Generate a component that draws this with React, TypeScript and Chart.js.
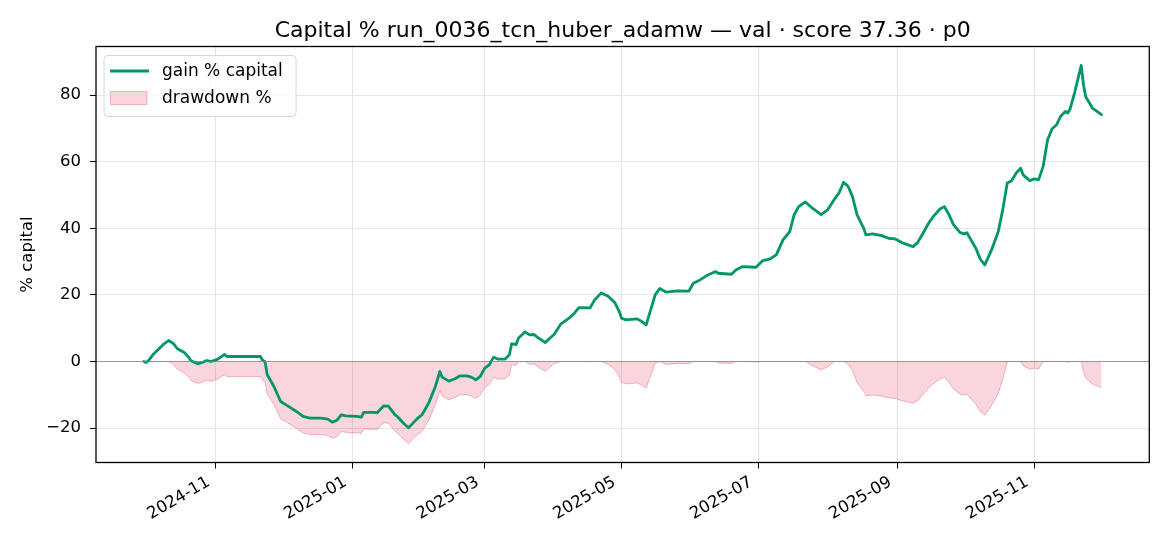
import React, { useEffect, useRef } from "react";
import { Chart, registerables } from "chart.js";

Chart.register(...registerables);

// ---------------- data ----------------
const dates: string[] = [
  "2024-09-30", "2024-10-01", "2024-10-02", "2024-10-04", "2024-10-07", "2024-10-09", "2024-10-11",
  "2024-10-13", "2024-10-15", "2024-10-18", "2024-10-20", "2024-10-21", "2024-10-24", "2024-10-26",
  "2024-10-28", "2024-10-30", "2024-11-02", "2024-11-04", "2024-11-05", "2024-11-06", "2024-11-21",
  "2024-11-22", "2024-11-23", "2024-11-24", "2024-11-27", "2024-11-30", "2024-12-04", "2024-12-07",
  "2024-12-10", "2024-12-13", "2024-12-18", "2024-12-21", "2024-12-23", "2024-12-25", "2024-12-27",
  "2024-12-29", "2025-01-03", "2025-01-05", "2025-01-06", "2025-01-11", "2025-01-12", "2025-01-15",
  "2025-01-17", "2025-01-20", "2025-01-21", "2025-01-24", "2025-01-26", "2025-01-28", "2025-01-30",
  "2025-02-01", "2025-02-04", "2025-02-07", "2025-02-09", "2025-02-10", "2025-02-13", "2025-02-16",
  "2025-02-18", "2025-02-21", "2025-02-23", "2025-02-25", "2025-02-27", "2025-03-01", "2025-03-03",
  "2025-03-05", "2025-03-07", "2025-03-10", "2025-03-12", "2025-03-13", "2025-03-15", "2025-03-16",
  "2025-03-19", "2025-03-21", "2025-03-23", "2025-03-25", "2025-03-28", "2025-03-30", "2025-04-01",
  "2025-04-04", "2025-04-07", "2025-04-10", "2025-04-12", "2025-04-17", "2025-04-19", "2025-04-22",
  "2025-04-25", "2025-04-28", "2025-04-30", "2025-05-01", "2025-05-03", "2025-05-08", "2025-05-10",
  "2025-05-12", "2025-05-14", "2025-05-16", "2025-05-18", "2025-05-21", "2025-05-26", "2025-05-31",
  "2025-06-02", "2025-06-05", "2025-06-08", "2025-06-12", "2025-06-13", "2025-06-19", "2025-06-21",
  "2025-06-24", "2025-06-30", "2025-07-03", "2025-07-06", "2025-07-09", "2025-07-12", "2025-07-15",
  "2025-07-17", "2025-07-19", "2025-07-22", "2025-07-25", "2025-07-29", "2025-08-01", "2025-08-04",
  "2025-08-06", "2025-08-08", "2025-08-10", "2025-08-12", "2025-08-14", "2025-08-17", "2025-08-18",
  "2025-08-21", "2025-08-25", "2025-08-28", "2025-08-31", "2025-09-03", "2025-09-08", "2025-09-10",
  "2025-09-12", "2025-09-15", "2025-09-17", "2025-09-20", "2025-09-22", "2025-09-24", "2025-09-26",
  "2025-09-29", "2025-10-01", "2025-10-02", "2025-10-04", "2025-10-06", "2025-10-08", "2025-10-10",
  "2025-10-13", "2025-10-16", "2025-10-18", "2025-10-20", "2025-10-22", "2025-10-24", "2025-10-26",
  "2025-10-27", "2025-10-30", "2025-11-01", "2025-11-03", "2025-11-05", "2025-11-07", "2025-11-09",
  "2025-11-11", "2025-11-13", "2025-11-15", "2025-11-16", "2025-11-17", "2025-11-19", "2025-11-22",
  "2025-11-23", "2025-11-24", "2025-11-27", "2025-11-29", "2025-12-01",
];

const gainPct: number[] = [
  0.0, -0.3, 0.2, 2.0, 4.0, 5.3, 6.3,
  5.5, 3.8, 2.7, 1.3, 0.2, -0.7, -0.3,
  0.3, 0.0, 0.7, 1.7, 2.1, 1.5, 1.5,
  0.3, 0.0, -4.0, -7.5, -12.0, -13.7, -15.0,
  -16.5, -17.0, -17.0, -17.3, -18.2, -17.7, -16.0,
  -16.3, -16.5, -16.7, -15.3, -15.3, -15.4, -13.3,
  -13.4, -16.0, -16.5, -18.7, -19.9, -18.5, -17.1,
  -16.0, -12.5, -7.5, -3.0, -4.7, -5.9, -5.1,
  -4.3, -4.3, -4.7, -5.5, -4.5, -2.0, -1.0,
  1.3, 0.7, 0.7, 2.0, 5.3, 5.1, 7.0,
  8.9, 8.0, 8.1, 7.0, 5.7, 7.0, 8.2,
  11.3, 12.7, 14.5, 16.2, 16.1, 18.5, 20.6,
  19.6, 17.7, 15.0, 13.0, 12.5, 12.8, 12.0,
  11.0, 15.5, 20.0, 21.9, 20.8, 21.2, 21.1,
  23.5, 24.5, 25.8, 27.0, 26.5, 26.2, 27.5,
  28.5, 28.3, 30.3, 30.7, 32.0, 36.5, 39.0,
  44.1, 46.5, 47.9, 46.1, 44.1, 45.6, 48.8,
  50.6, 53.8, 52.6, 49.5, 44.1, 40.0, 38.0,
  38.3, 37.8, 37.0, 36.8, 35.7, 34.5, 35.7,
  38.0, 41.6, 43.5, 45.8, 46.5, 44.1, 41.1,
  38.7, 38.3, 38.7, 36.3, 34.0, 30.7, 29.0,
  33.5, 39.0, 45.6, 53.6, 54.3, 56.6, 58.0,
  56.1, 54.3, 54.8, 54.6, 58.6, 66.6, 69.9,
  71.1, 73.8, 75.1, 74.6, 75.8, 80.6, 88.9,
  83.1, 79.5, 76.1, 75.1, 74.1,
];

const drawdownPct: number[] = [
  0.0, -0.3, 0.0, 0.0, 0.0, 0.0, 0.0,
  -0.75, -2.35, -3.39, -4.7, -5.74, -6.59, -6.21,
  -5.64, -5.93, -5.27, -4.33, -3.95, -4.52, -4.52,
  -5.64, -5.93, -9.69, -12.98, -17.22, -18.81, -20.04,
  -21.45, -21.92, -21.92, -22.2, -23.05, -22.58, -20.98,
  -21.26, -21.45, -21.64, -20.32, -20.32, -20.41, -18.44,
  -18.53, -20.98, -21.45, -23.52, -24.65, -23.33, -22.01,
  -20.98, -17.69, -12.98, -8.75, -10.35, -11.48, -10.72,
  -9.97, -9.97, -10.35, -11.1, -10.16, -7.81, -6.87,
  -4.7, -5.27, -5.27, -4.05, -0.94, -1.13, 0.0,
  0.0, -0.83, -0.73, -1.74, -2.94, -1.74, -0.64,
  0.0, 0.0, 0.0, 0.0, -0.09, 0.0, 0.0,
  -0.83, -2.4, -4.64, -6.3, -6.72, -6.47, -7.13,
  -7.96, -4.23, -0.5, 0.0, -0.9, -0.57, -0.66,
  0.0, 0.0, 0.0, 0.0, -0.39, -0.63, 0.0,
  0.0, -0.16, 0.0, 0.0, 0.0, 0.0, 0.0,
  0.0, 0.0, 0.0, -1.22, -2.57, -1.56, 0.0,
  0.0, 0.0, -0.78, -2.8, -6.31, -8.97, -10.27,
  -10.08, -10.4, -10.92, -11.05, -11.77, -12.55, -11.77,
  -10.27, -7.93, -6.7, -5.2, -4.75, -6.31, -8.26,
  -9.82, -10.08, -9.82, -11.38, -12.87, -15.02, -16.12,
  -13.2, -9.62, -5.33, -0.13, 0.0, 0.0, 0.0,
  -1.2, -2.34, -2.03, -2.15, 0.0, 0.0, 0.0,
  0.0, 0.0, 0.0, -0.29, 0.0, 0.0, 0.0,
  -3.07, -4.98, -6.78, -7.31, -7.83,
];

const xTickLabels: string[] = ["2024-11", "2025-01", "2025-03", "2025-05", "2025-07", "2025-09", "2025-11"];
const yTickValues: number[] = [-20, 0, 20, 40, 60, 80];

const TITLE = "Capital % run_0036_tcn_huber_adamw \u2014 val \u00b7 score 37.36 \u00b7 p0";
const SERIES_GAIN = "gain % capital";
const SERIES_DD = "drawdown %";
const Y_LABEL = "% capital";

// ---------------- styles ----------------
const FONT = "'DejaVu Sans', 'Noto Sans', sans-serif";
const GREEN = "#00956a";
const DD_FILL = "rgba(220, 20, 60, 0.18)";
const DD_EDGE = "rgba(220, 20, 60, 0.28)";
const GRID = "#e6e6e6";

const W = 1170;
const H = 546;

const toMs = (d: string) => Date.parse(d + "T00:00:00Z");
const tickMs = xTickLabels.map((m) => toMs(m + "-01"));

const titlePlugin = {
  id: "mplTitle",
  afterDraw(chart: any) {
    const { ctx, chartArea } = chart;
    ctx.save();
    ctx.font = `22px ${FONT}`;
    ctx.fillStyle = "#000";
    ctx.textAlign = "center";
    ctx.textBaseline = "alphabetic";
    ctx.fillText(TITLE, (chartArea.left + chartArea.right) / 2, chartArea.top - 9.5);
    ctx.restore();
  },
};

const framePlugin = {
  id: "mplFrame",
  afterDatasetsDraw(chart: any) {
    const { ctx, chartArea, scales } = chart;
    ctx.save();
    // zero line
    const y0 = scales.y.getPixelForValue(0);
    ctx.strokeStyle = "rgba(128,128,128,0.75)";
    ctx.lineWidth = 1.2;
    ctx.beginPath();
    ctx.moveTo(chartArea.left, y0);
    ctx.lineTo(chartArea.right, y0);
    ctx.stroke();
    // frame
    ctx.strokeStyle = "#000";
    ctx.lineWidth = 1.3;
    ctx.strokeRect(chartArea.left, chartArea.top, chartArea.right - chartArea.left, chartArea.bottom - chartArea.top);
    ctx.restore();
  },
};

const legendPlugin = {
  id: "mplLegend",
  afterDraw(chart: any) {
    const { ctx, chartArea } = chart;
    const ds = chart.data.datasets;
    const x0 = chartArea.left + 8;
    const y0 = chartArea.top + 9;
    const w = 192;
    const h = 61;
    const r = 4;
    ctx.save();
    ctx.beginPath();
    ctx.moveTo(x0 + r, y0);
    ctx.lineTo(x0 + w - r, y0);
    ctx.quadraticCurveTo(x0 + w, y0, x0 + w, y0 + r);
    ctx.lineTo(x0 + w, y0 + h - r);
    ctx.quadraticCurveTo(x0 + w, y0 + h, x0 + w - r, y0 + h);
    ctx.lineTo(x0 + r, y0 + h);
    ctx.quadraticCurveTo(x0, y0 + h, x0, y0 + h - r);
    ctx.lineTo(x0, y0 + r);
    ctx.quadraticCurveTo(x0, y0, x0 + r, y0);
    ctx.closePath();
    ctx.fillStyle = "rgba(255,255,255,0.8)";
    ctx.fill();
    ctx.strokeStyle = "#d6d6d6";
    ctx.lineWidth = 1;
    ctx.stroke();

    ctx.font = `17px ${FONT}`;
    ctx.fillStyle = "#000";
    ctx.textBaseline = "middle";
    ctx.textAlign = "left";

    // line entry
    const ly = y0 + 15.5;
    ctx.strokeStyle = ds[0].borderColor;
    ctx.lineWidth = 2.8;
    ctx.beginPath();
    ctx.moveTo(x0 + 6, ly);
    ctx.lineTo(x0 + 45, ly);
    ctx.stroke();
    ctx.fillText(ds[0].label, x0 + 58, ly + 1);

    // patch entry
    const py = y0 + 42.5;
    ctx.fillStyle = ds[1].backgroundColor;
    ctx.fillRect(x0 + 6.5, py - 6.5, 36.5, 13);
    ctx.strokeStyle = ds[1].borderColor;
    ctx.lineWidth = 1;
    ctx.strokeRect(x0 + 6.5, py - 6.5, 36.5, 13);
    ctx.fillStyle = "#000";
    ctx.fillText(ds[1].label, x0 + 58, py + 1);
    ctx.restore();
  },
};

export default function App() {
  const ref = useRef<HTMLCanvasElement | null>(null);

  useEffect(() => {
    if (!ref.current) return;
    const xs = dates.map(toMs);
    const xSpan = xs[xs.length - 1] - xs[0];
    const xMin = xs[0] - 0.05 * xSpan;
    const xMax = xs[xs.length - 1] + 0.05 * xSpan;
    const allY = gainPct.concat(drawdownPct);
    const yLo = Math.min(...allY);
    const yHi = Math.max(...allY);
    const ySpan = yHi - yLo;

    const chart = new Chart(ref.current, {
      type: "line",
      data: {
        datasets: [
          {
            label: SERIES_GAIN,
            data: xs.map((x, i) => ({ x, y: gainPct[i] })),
            borderColor: GREEN,
            backgroundColor: GREEN,
            borderWidth: 2.8,
            pointRadius: 0,
            tension: 0,
            fill: false,
            borderJoinStyle: "round",
            borderCapStyle: "round",
          },
          {
            label: SERIES_DD,
            data: xs.map((x, i) => ({ x, y: drawdownPct[i] })),
            borderColor: DD_EDGE,
            backgroundColor: DD_FILL,
            borderWidth: 1,
            pointRadius: 0,
            tension: 0,
            fill: "origin",
          },
        ],
      },
      options: {
        animation: false,
        responsive: false,
        devicePixelRatio: 1,
        layout: { padding: { left: 0, right: 20.7, top: 46.5, bottom: 0 } },
        plugins: {
          legend: { display: false },
          tooltip: { enabled: false },
          title: { display: false },
        },
        scales: {
          x: {
            type: "linear",
            min: xMin,
            max: xMax,
            afterBuildTicks: (scale: any) => {
              scale.ticks = tickMs.map((v) => ({ value: v }));
            },
            afterFit: (scale: any) => {
              scale.height = H - 462.5;
            },
            border: { display: false },
            grid: { color: GRID, lineWidth: 1, tickLength: 6, tickColor: "#000", drawTicks: true },
            ticks: {
              autoSkip: false,
              minRotation: 30,
              maxRotation: 30,
              padding: 4,
              labelOffset: -7,
              color: "#000",
              font: { family: FONT, size: 16.5 },
              callback: (v: any) => {
                const i = tickMs.indexOf(Number(v));
                return i >= 0 ? xTickLabels[i] : "";
              },
            },
          },
          y: {
            type: "linear",
            min: yLo - 0.05 * ySpan,
            max: yHi + 0.05 * ySpan,
            afterBuildTicks: (scale: any) => {
              scale.ticks = yTickValues.map((v) => ({ value: v }));
            },
            afterFit: (scale: any) => {
              scale.width = 96;
            },
            border: { display: false },
            grid: { color: GRID, lineWidth: 1, tickLength: 6, tickColor: "#000", drawTicks: true },
            ticks: {
              padding: 9,
              color: "#000",
              font: { family: FONT, size: 16.5 },
              callback: (v: any) => (Number(v) < 0 ? "\u2212" + String(Math.abs(Number(v))) : String(v)),
            },
            title: {
              display: true,
              text: Y_LABEL,
              color: "#000",
              font: { family: FONT, size: 16.5, lineHeight: 1.2 },
              padding: { top: 17.5, bottom: 0 },
            },
          },
        },
      },
      plugins: [framePlugin, legendPlugin, titlePlugin],
    } as any);

    return () => chart.destroy();
  }, []);

  return (
    <div style={{ position: "fixed", left: 0, top: 0, width: W, height: H, background: "#fff" }}>
      <canvas ref={ref} width={W} height={H} style={{ width: W, height: H, display: "block" }} />
    </div>
  );
}
